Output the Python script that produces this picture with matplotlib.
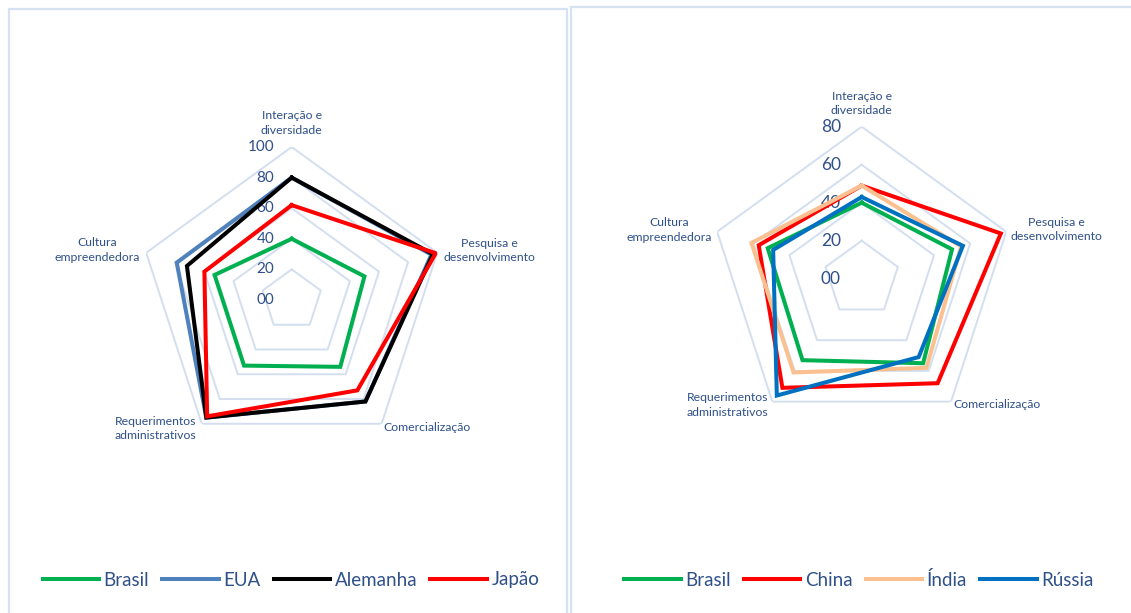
import numpy as np
import matplotlib
matplotlib.use("Agg")
import matplotlib.pyplot as plt
from matplotlib.patches import Rectangle
from matplotlib.lines import Line2D

plt.rcParams['font.family'] = ['Lato', 'DejaVu Sans']

categories = ['Interação e\ndiversidade', 'Pesquisa e\ndesenvolvimento', 'Comercialização',
              'Requerimentos\nadministrativos', 'Cultura\nempreendedora']

# left chart
left_names = ['Brasil', 'EUA', 'Alemanha', 'Japão']
left_colors = ['#00B050', '#4F81BD', '#000000', '#FF0000']
brasil_l = [40, 50, 54, 53, 53]
eua = [80, 96, 82, 95, 79]
alemanha = [80, 97, 82, 95, 72]
japao = [62, 99, 73, 94, 60]
left_ticks = [0, 20, 40, 60, 80, 100]
left_ticklabels = ['00', '20', '40', '60', '80', '100']

# right chart
right_names = ['Brasil', 'China', 'Índia', 'Rússia']
right_colors = ['#00B050', '#FF0000', '#FAC090', '#0070C0']
brasil_r = [40, 50, 55, 53, 52]
china = [49, 77, 68, 71, 57]
india = [49, 55, 58, 61, 61]
russia = [43, 56, 51, 76, 49]
right_ticks = [0, 20, 40, 60, 80]
right_ticklabels = ['00', '20', '40', '60', '80']

TXT = '#2F5089'
GRID = '#D3DFEF'
W, H = 1131, 613

fig = plt.figure(figsize=(W / 100, H / 100), dpi=100)

# panel borders
fig.patches.append(Rectangle((9 / W, -0.01), 558 / W, (H - 9) / H + 0.01, transform=fig.transFigure,
                             fill=False, edgecolor='#D6E2F2', lw=1.6))
fig.patches.append(Rectangle((571 / W, -0.01), 0.6, (H - 7) / H + 0.01, transform=fig.transFigure,
                             fill=False, edgecolor='#D6E2F2', lw=1.6))


def radar(cx, cy, rad, rmax, series, colors, ticks, ticklabels, tick_fs, tick_dx, label_pos):
    ax = fig.add_axes([(cx - rad) / W, (H - cy - rad) / H, 2 * rad / W, 2 * rad / H], projection='polar')
    ax.set_theta_offset(np.pi / 2)
    ax.set_theta_direction(-1)
    ax.set_ylim(0, rmax)
    ax.grid(False)
    ax.spines['polar'].set_visible(False)
    ax.set_xticks([])
    ax.set_yticks([])
    ax.patch.set_alpha(0)
    ang = np.linspace(0, 2 * np.pi, len(categories), endpoint=False)
    angc = np.append(ang, ang[0])
    for t in ticks[1:]:
        ax.plot(angc, [t] * len(angc), color=GRID, lw=1.4, zorder=1)
    for vals, c in zip(series, colors):
        ax.plot(angc, list(vals) + [vals[0]], color=c, lw=2.9, zorder=3, solid_joinstyle='miter')
    for t, lab in zip(ticks, ticklabels):
        ax.annotate(lab, (0, t), xytext=(tick_dx, 0), textcoords='offset points', ha='right', va='center',
                    fontsize=tick_fs, color=TXT, zorder=2, annotation_clip=False)
    # label offsets given in pixels
    for a, lab, (dx, dy, ha) in zip(ang, categories, label_pos):
        ax.annotate(lab, (a, rmax), xytext=(dx * 0.72, dy * 0.72), textcoords='offset points',
                    ha=ha, va='center', multialignment='center',
                    fontsize=8.8, color=TXT, linespacing=1.35, annotation_clip=False)
    return ax


radar(291.7, 300, 153, 100, [brasil_l, eua, alemanha, japao], left_colors,
      left_ticks, left_ticklabels, 11, -12.5,
      [(0, 24, 'center'), (6, 2, 'left'), (2, -4, 'left'), (-5, -4.5, 'right'), (-6, 2.7, 'right')])
radar(861.7, 278.7, 152, 80, [brasil_r, china, india, russia], right_colors,
      right_ticks, right_ticklabels, 12.5, -15,
      [(0, 23, 'center'), (4.4, 2, 'left'), (2, -2.6, 'left'), (-4, -3.3, 'right'), (-5, 1.7, 'right')])


def legend(names, colors, x0):
    handles = [Line2D([], [], color=c, lw=2.9) for c in colors]
    return fig.legend(handles, names, loc='center', bbox_to_anchor=(x0 / W, 1 - 580 / H), ncol=4,
                      frameon=False, fontsize=13.5, handlelength=3.0, handletextpad=0.25,
                      columnspacing=0.7, labelcolor=TXT)


legend(left_names, left_colors, 291)
legend(right_names, right_colors, 859)

fig.savefig('out.png', dpi=100)
